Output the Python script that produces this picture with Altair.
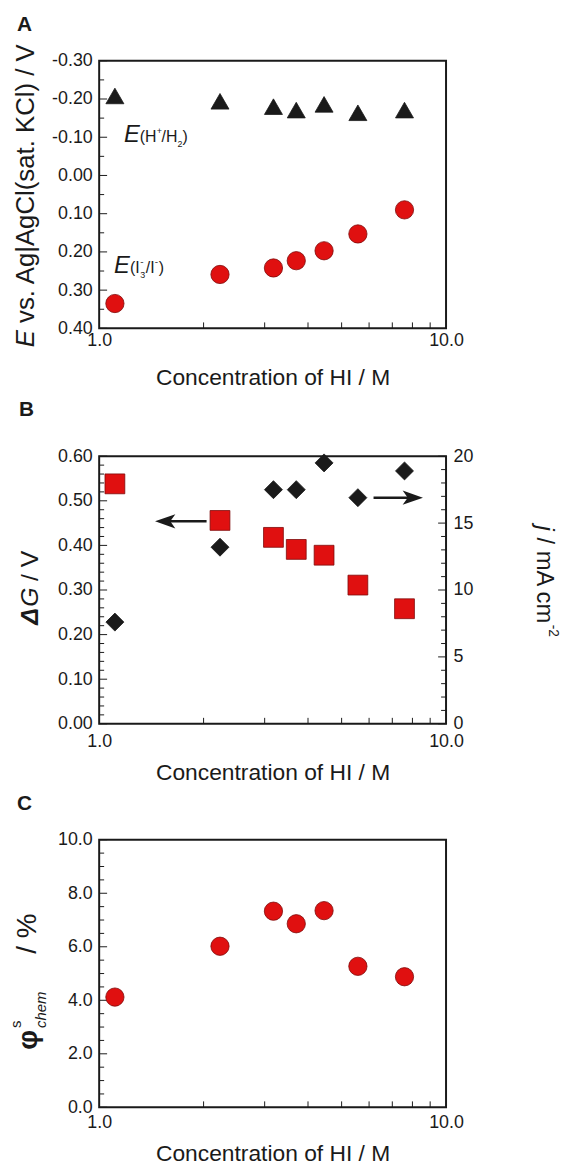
import altair as alt
import pandas as pd

# ---------------- data ----------------
conc = [1.11, 2.23, 3.18, 3.70, 4.45, 5.57, 7.59]                 # HI concentration / M
e_h2 = [-0.208, -0.194, -0.180, -0.171, -0.186, -0.164, -0.171]   # E(H+/H2) / V
e_i3 = [0.335, 0.259, 0.242, 0.223, 0.197, 0.153, 0.090]          # E(I3-/I-) / V
delta_g = [0.538, 0.456, 0.418, 0.391, 0.378, 0.311, 0.258]       # dG / V
j_cur = [7.6, 13.2, 17.5, 17.5, 19.5, 16.9, 18.9]                 # j / mA cm-2
phi_chem = [4.12, 6.02, 7.33, 6.86, 7.35, 5.27, 4.88]             # phi / %

x_label_vals = [1, 10]
x_minor_ticks = [2, 3, 4, 5, 6, 7, 8, 9]

a_major = [-0.30, -0.20, -0.10, 0.00, 0.10, 0.20, 0.30, 0.40]
a_minor = [-0.25, -0.15, -0.05, 0.05, 0.15, 0.25, 0.35]
b_major = [0.00, 0.10, 0.20, 0.30, 0.40, 0.50, 0.60]
b_minor = [0.02, 0.04, 0.06, 0.08, 0.12, 0.14, 0.16, 0.18, 0.22, 0.24, 0.26, 0.28,
           0.32, 0.34, 0.36, 0.38, 0.42, 0.44, 0.46, 0.48, 0.52, 0.54, 0.56, 0.58]
j_major = [0, 5, 10, 15, 20]
j_minor = [1, 2, 3, 4, 6, 7, 8, 9, 11, 12, 13, 14, 16, 17, 18, 19]
c_major = [0, 2, 4, 6, 8, 10]
c_minor = [0.5, 1, 1.5, 2.5, 3, 3.5, 4.5, 5, 5.5, 6.5, 7, 7.5, 8.5, 9, 9.5]

arrow_start = [2.04, 6.18]
arrow_head = [1.55, 8.02]
arrow_level = [0.454, 0.507]

# ---------------- styling ----------------
W, H = 350, 270
FONT = "Liberation Sans"
INK = "#1a1a1a"
RED = "#e01010"
RED_EDGE = "#7d0a0a"
one = pd.DataFrame({"k": [0]})
LBL2 = "replace(format(datum.value, '.2f'), '\u2212', '-')"


def label(s, x, y, size, style="normal", weight="normal", angle=0,
          align="left", baseline="alphabetic"):
    return alt.Chart(one).mark_text(
        text=s, font=FONT, fontSize=size, fontStyle=style, fontWeight=weight,
        angle=angle, align=align, baseline=baseline, color=INK
    ).encode(x=alt.value(x), y=alt.value(y))


def x_enc(label_pad, title_pad):
    return alt.X(
        "x:Q",
        scale=alt.Scale(type="log", domain=[1, 10], nice=False),
        axis=alt.Axis(values=x_label_vals, format=".1f", labelFlush=False,
                      labelFontSize=18, labelFont=FONT, labelColor=INK,
                      labelPadding=label_pad, ticks=False, tickSize=0, domain=False,
                      grid=False, title="Concentration of HI / M",
                      titleFont=FONT, titleFontSize=23, titleFontWeight="normal",
                      titleColor=INK, titlePadding=title_pad),
    )


def y_enc(domain, vals, expr, reverse=False, orient="left"):
    return alt.Y(
        "y:Q",
        scale=alt.Scale(domain=domain, nice=False, zero=False, reverse=reverse),
        axis=alt.Axis(orient=orient, values=vals, labelExpr=expr,
                      labelFontSize=18, labelFont=FONT, labelColor=INK,
                      labelPadding=7, ticks=False, tickSize=0, domain=False,
                      grid=False, title=None),
    )


def yticks(vals, yenc, length, right=False):
    x0 = W if right else 0
    x1 = W - length if right else length
    return alt.Chart(pd.DataFrame({"y": vals})).mark_rule(
        color=INK, strokeWidth=1).encode(y=yenc, x=alt.value(x0), x2=alt.value(x1))


def xticks(xenc):
    return alt.Chart(pd.DataFrame({"x": x_minor_ticks})).mark_rule(
        color=INK, strokeWidth=1).encode(x=xenc, y=alt.value(H), y2=alt.value(H - 6))


def pts(vals, xenc, yenc, shape, fill, stroke, size):
    df = pd.DataFrame({"x": conc, "y": vals})
    return alt.Chart(df).mark_point(
        shape=shape, filled=True, fill=fill, stroke=stroke, strokeWidth=0.8,
        size=size, opacity=1).encode(x=xenc, y=yenc)


# ---------------- panel A ----------------
xa = x_enc(3, 18)
ya = y_enc([-0.3, 0.4], a_major, LBL2, reverse=True)
panel_a = alt.layer(
    yticks(a_major, ya, 8), yticks(a_minor, ya, 5), xticks(xa),
    pts(e_h2, xa, ya, "triangle-up", INK, INK, 330),
    pts(e_i3, xa, ya, "circle", RED, RED_EDGE, 340),
    label("A", -83, -30, 21, weight="bold"),
    # y title
    label("E", -74, 289, 26, style="italic", angle=270, baseline="middle"),
    label("vs. Ag|AgCl(sat. KCl) / V", -74, 264.5, 26, angle=270, baseline="middle"),
    # E(H+/H2)
    label("E", 25, 82, 24, style="italic"),
    label("(H", 41, 82, 16),
    label("+", 58, 74, 9),
    label("/H", 63, 82, 16),
    label("2", 79, 87, 9),
    label(")", 84, 82, 16),
    # E(I3-/I-)
    label("E", 15, 214, 24, style="italic"),
    label("(I", 31, 214, 16),
    label("-", 41.5, 206, 10),
    label("3", 41.5, 219, 9),
    label("/I", 47, 214, 16),
    label("-", 56, 206, 10),
    label(")", 60, 214, 16),
).properties(width=W, height=H)

# ---------------- panel B ----------------
xb = x_enc(9, 11)
yb = y_enc([0, 0.6], b_major, LBL2)
yj = y_enc([0, 20], j_major, "format(datum.value, 'd')", orient="right")

arrows = pd.DataFrame({"x": arrow_start, "x2": arrow_head, "y": arrow_level})
shaft = alt.Chart(arrows).mark_rule(color=INK, strokeWidth=2.5).encode(
    x=xb, x2="x2:Q", y=yb)
head_l = alt.Chart(pd.DataFrame({"x": arrow_head[:1], "y": arrow_level[:1]})).mark_point(
    shape="M-1,0L1,-0.7L0.5,0L1,0.7Z", filled=True, fill=INK, strokeWidth=0,
    size=420, opacity=1).encode(x=xb, y=yb)
head_r = alt.Chart(pd.DataFrame({"x": arrow_head[1:], "y": arrow_level[1:]})).mark_point(
    shape="M1,0L-1,-0.7L-0.5,0L-1,0.7Z", filled=True, fill=INK, strokeWidth=0,
    size=420, opacity=1).encode(x=xb, y=yb)

left_b = alt.layer(
    yticks(b_major, yb, 8), yticks(b_minor, yb, 5), xticks(xb),
    shaft, head_l, head_r,
    pts(delta_g, xb, yb, "square", RED, RED_EDGE, 400),
    label("B", -81, -41, 21, weight="bold"),
    label("\u0394", -70, 170, 25, style="italic", weight="bold", angle=270, baseline="middle"),
    label("G", -70, 152, 25, style="italic", angle=270, baseline="middle"),
    label("/ V", -70, 126, 25, angle=270, baseline="middle"),
)
right_b = alt.layer(
    yticks(j_major, yj, 8, right=True), yticks(j_minor, yj, 5, right=True),
    pts(j_cur, xb, yj, "diamond", INK, INK, 330),
    label("j", 449, 70, 24, style="italic", angle=90, baseline="middle"),
    label("/ mA cm", 449, 82, 24, angle=90, baseline="middle"),
    label("-2", 458, 170, 14, angle=90, baseline="middle"),
)
panel_b = alt.layer(left_b, right_b).resolve_scale(y="independent").properties(width=W, height=H)

# ---------------- panel C ----------------
xc = x_enc(6, 12)
yc = y_enc([0, 10], c_major, "format(datum.value, '.1f')")
panel_c = alt.layer(
    yticks(c_major, yc, 8), yticks(c_minor, yc, 5), xticks(xc),
    pts(phi_chem, xc, yc, "circle", RED, RED_EDGE, 340),
    label("C", -83, -30, 21, weight="bold"),
    label("\u03c6", -71, 212, 28, weight="bold", angle=270, baseline="middle"),
    label("s", -84, 190, 15, angle=270, baseline="middle"),
    label("chem", -59, 190, 15, style="italic", angle=270, baseline="middle"),
    label("/ %", -72, 115, 28, angle=270, baseline="middle"),
).properties(width=W, height=H)

chart = alt.vconcat(panel_a, panel_b, panel_c, spacing=7).properties(
    padding={"left": 0, "top": 0, "right": 0, "bottom": 0}
).configure(font=FONT).configure_view(stroke=INK, strokeWidth=2)

chart.save("out.html", embed_options={"renderer": "svg", "actions": False})
